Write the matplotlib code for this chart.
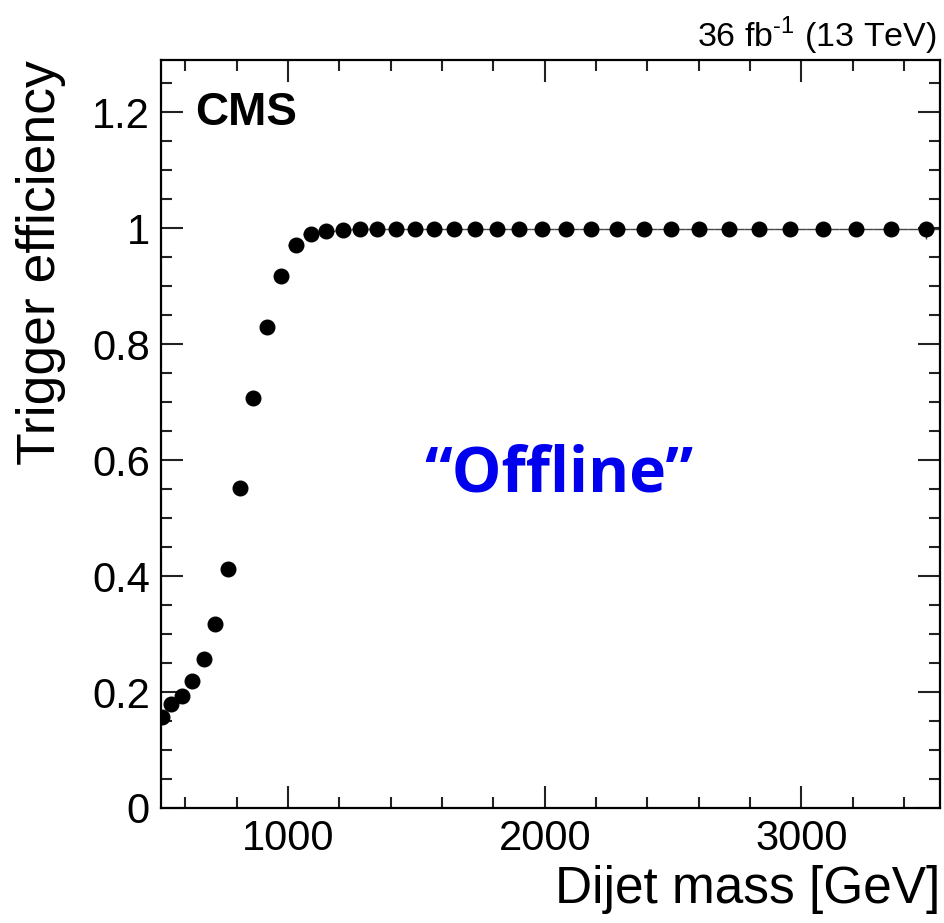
import numpy as np
import matplotlib
matplotlib.use("Agg")
import matplotlib.pyplot as plt
from matplotlib.ticker import MultipleLocator, FuncFormatter

# Dijet mass bin edges [GeV] and measured trigger efficiency per bin
bin_edges = [489, 526, 565, 606, 649, 693, 740, 788, 838, 890, 944, 1000,
             1058, 1118, 1181, 1246, 1313, 1383, 1455, 1530, 1607, 1687,
             1770, 1856, 1945, 2037, 2132, 2231, 2332, 2438, 2546, 2659,
             2775, 2895, 3019, 3147, 3279, 3416, 3558]
efficiency = [0.157, 0.179, 0.193, 0.219, 0.257, 0.317, 0.412, 0.552,
              0.707, 0.829, 0.917, 0.971, 0.990, 0.995, 0.997, 0.998,
              0.999, 0.999, 0.999, 0.999, 0.999, 0.999, 0.999, 0.999,
              0.999, 0.999, 0.999, 0.999, 0.999, 0.999, 0.999, 0.999,
              0.999, 0.999, 0.999, 0.999, 0.999, 0.999]
eff_err_low = [0.004, 0.004, 0.004, 0.004, 0.004, 0.004, 0.004, 0.004,
               0.004, 0.003, 0.003, 0.002, 0.002, 0.001, 0.001, 0.001,
               0.001, 0.001, 0.001, 0.001, 0.001, 0.001, 0.001, 0.001,
               0.001, 0.001, 0.001, 0.002, 0.002, 0.002, 0.003, 0.003,
               0.004, 0.005, 0.006, 0.008, 0.010, 0.017]
eff_err_high = [0.004, 0.004, 0.004, 0.004, 0.004, 0.004, 0.004, 0.004,
                0.004, 0.003, 0.003, 0.002, 0.002, 0.001, 0.001, 0.001,
                0.001, 0.001, 0.001, 0.001, 0.001, 0.001, 0.001, 0.001,
                0.001, 0.001, 0.001, 0.001, 0.001, 0.001, 0.001, 0.001,
                0.001, 0.001, 0.001, 0.001, 0.001, 0.001]

edges = np.array(bin_edges, dtype=float)
centers = 0.5 * (edges[:-1] + edges[1:])
half_width = 0.5 * (edges[1:] - edges[:-1])

plt.rcParams['font.family'] = ['Liberation Sans', 'DejaVu Sans']

fig = plt.figure(figsize=(9.44, 9.23), dpi=100)
ax = fig.add_axes([0.1706, 0.1246, 0.8252, 0.8104])

ax.errorbar(centers, efficiency, xerr=half_width,
            yerr=[eff_err_low, eff_err_high],
            fmt='o', color='black', markersize=10.5, elinewidth=1.0,
            ecolor='#444444', capsize=0)

ax.set_xlim(505, 3540)
ax.set_ylim(0, 1.29)

# ROOT-like ticks: inside, on all four sides
ax.xaxis.set_major_locator(MultipleLocator(1000))
ax.xaxis.set_minor_locator(MultipleLocator(200))
ax.yaxis.set_major_locator(MultipleLocator(0.2))
ax.yaxis.set_minor_locator(MultipleLocator(0.05))
ax.yaxis.set_major_formatter(FuncFormatter(lambda v, p: f"{v:g}"))
ax.tick_params(which='both', direction='in', top=True, right=True,
               width=1.5, color='#222222')
ax.tick_params(which='major', length=16, labelsize=30, pad=8)
ax.tick_params(which='minor', length=8)
for side in ax.spines.values():
    side.set_linewidth(1.6)

ax.set_xlabel("Dijet mass [GeV]", fontsize=37, loc='right')
ax.set_ylabel("Trigger efficiency", fontsize=38.5, loc='top')
ax.xaxis.set_label_coords(1.0, -0.076)
ax.yaxis.set_label_coords(-0.122, 1.0)

ax.text(0.0436, 0.913, "CMS", transform=ax.transAxes, fontsize=33,
        fontweight='bold', ha='left', va='baseline')
ax.text(0.511, 0.4225, "\u201cOffline\u201d", transform=ax.transAxes,
        fontsize=45, fontweight='bold', color='#0000ee',
        family=['Open Sans', 'DejaVu Sans'], ha='center', va='baseline')

fig.text(0.9926, 0.949, "36 fb$^{\\mathregular{\u2010 1}}$ (13 TeV)",
         fontsize=24.5, ha='right', va='baseline')

fig.savefig("out.png", dpi=100)
